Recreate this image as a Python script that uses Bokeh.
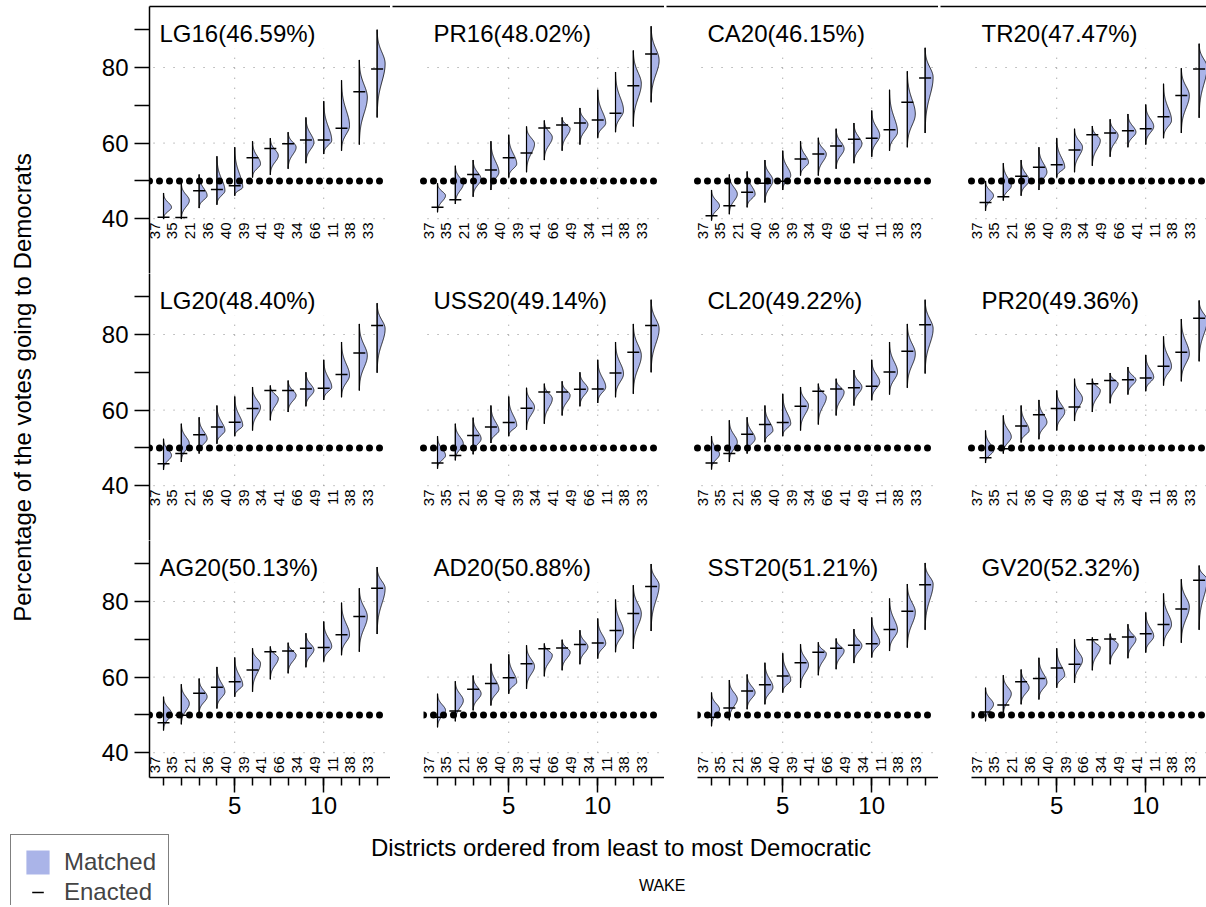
import numpy as np
from bokeh.plotting import figure
from bokeh.models import (Range1d, LinearAxis, FixedTicker, Label, LabelSet, Legend,
                          LegendItem, ColumnDataSource)
from bokeh.layouts import row, column
from bokeh.embed import file_html
from bokeh.resources import INLINE
from bokeh.core.properties import value

# ---------------- data ----------------
elections = ["LG16", "PR16", "CA20", "TR20", "LG20", "USS20", "CL20", "PR20",
             "AG20", "AD20", "SST20", "GV20"]
statewide_dem = [46.59, 48.02, 46.15, 47.47, 48.40, 49.14, 49.22, 49.36,
                 50.13, 50.88, 51.21, 52.32]
district_rank = list(range(1, 14))

LG16_districts = ["37", "35", "21", "36", "40", "39", "41", "49", "34", "66", "11", "38", "33"]
LG16_enacted = [40.4, 40.3, 47.4, 47.7, 48.7, 56.1, 58.6, 59.8, 60.8, 60.8, 63.9, 73.6, 79.6]
LG16_low = [39.9, 39.9, 42.8, 43.7, 46.1, 50.9, 51.6, 53.2, 54.7, 57.1, 58.0, 59.6, 66.8]
LG16_mode = [43.0, 44.8, 46.1, 47.4, 48.3, 54.5, 56.7, 58.9, 60.2, 60.7, 64.6, 72.1, 81.0]
LG16_high = [46.8, 49.4, 51.7, 56.5, 58.9, 60.5, 61.3, 62.9, 66.8, 71.1, 76.6, 82.0, 90.0]

PR16_districts = ["37", "35", "21", "36", "40", "39", "41", "66", "49", "34", "11", "38", "33"]
PR16_enacted = [43.0, 45.0, 51.7, 52.9, 56.1, 57.4, 64.0, 64.8, 65.3, 66.1, 67.9, 75.2, 83.6]
PR16_low = [41.7, 43.9, 45.8, 47.6, 50.9, 52.3, 55.5, 58.0, 59.6, 61.4, 62.9, 64.4, 70.8]
PR16_mode = [46.1, 49.2, 50.5, 52.3, 54.5, 59.8, 61.5, 63.8, 64.9, 65.3, 68.6, 75.7, 81.9]
PR16_high = [49.4, 54.0, 55.5, 60.5, 62.2, 64.4, 66.0, 66.8, 69.3, 74.1, 78.8, 84.5, 90.9]

CA20_districts = ["37", "35", "21", "40", "36", "39", "34", "49", "66", "41", "11", "38", "33"]
CA20_enacted = [40.8, 43.4, 47.0, 49.4, 49.9, 55.8, 57.1, 59.2, 61.0, 61.3, 63.5, 70.8, 77.2]
CA20_low = [39.5, 41.2, 43.0, 44.3, 47.6, 51.4, 51.4, 53.2, 54.7, 56.4, 58.0, 58.9, 62.7]
CA20_mode = [43.4, 46.5, 46.5, 50.1, 51.4, 54.9, 57.1, 58.5, 59.8, 62.0, 62.9, 67.7, 77.4]
CA20_high = [47.6, 51.7, 52.5, 55.5, 58.0, 60.5, 61.4, 63.8, 65.3, 68.6, 74.1, 79.0, 85.2]

TR20_districts = ["37", "35", "21", "36", "40", "39", "34", "49", "66", "41", "11", "38", "33"]
TR20_enacted = [44.3, 45.8, 51.2, 53.6, 54.3, 58.2, 62.2, 62.7, 63.3, 63.8, 67.0, 72.6, 79.6]
TR20_low = [42.1, 44.8, 46.1, 47.6, 50.9, 52.3, 54.0, 56.4, 58.9, 59.6, 61.3, 62.7, 66.7]
TR20_mode = [46.1, 48.7, 50.1, 52.3, 53.6, 58.9, 60.7, 62.0, 62.9, 64.4, 66.0, 72.6, 80.1]
TR20_high = [50.0, 54.7, 55.5, 58.9, 61.3, 63.8, 64.5, 66.3, 67.7, 70.2, 75.7, 79.8, 86.3]

LG20_districts = ["37", "35", "21", "36", "40", "39", "34", "41", "66", "49", "11", "38", "33"]
LG20_enacted = [45.8, 48.5, 53.5, 55.5, 56.8, 60.4, 65.2, 65.2, 65.6, 65.8, 69.4, 75.1, 82.4]
LG20_low = [44.2, 46.3, 48.5, 51.1, 53.1, 54.6, 57.3, 59.5, 61.0, 62.7, 63.4, 65.2, 69.9]
LG20_mode = [48.0, 51.1, 52.4, 54.6, 55.9, 60.8, 63.0, 63.9, 65.2, 66.1, 69.2, 74.4, 81.5]
LG20_high = [52.4, 56.4, 58.1, 61.2, 63.6, 66.1, 66.5, 67.8, 70.0, 73.3, 78.0, 82.8, 88.3]

USS20_districts = ["37", "35", "21", "36", "40", "39", "34", "41", "49", "66", "11", "38", "33"]
USS20_enacted = [46.0, 48.0, 53.3, 55.5, 56.7, 60.5, 64.8, 64.8, 65.5, 65.6, 69.8, 75.3, 82.4]
USS20_low = [44.5, 46.7, 48.3, 51.3, 53.1, 54.8, 56.4, 58.6, 61.0, 61.9, 63.4, 64.3, 70.0]
USS20_mode = [48.0, 51.1, 52.4, 54.6, 55.9, 60.8, 63.0, 63.9, 65.6, 66.1, 69.6, 74.4, 81.5]
USS20_high = [53.1, 56.4, 58.0, 61.2, 63.6, 65.9, 67.0, 67.6, 70.0, 73.3, 78.0, 82.8, 89.2]

CL20_districts = ["37", "35", "21", "36", "40", "39", "34", "66", "41", "49", "11", "38", "33"]
CL20_enacted = [46.0, 48.5, 53.6, 56.2, 56.7, 61.0, 65.0, 65.6, 65.9, 66.3, 70.1, 75.6, 82.6]
CL20_low = [44.3, 46.3, 48.5, 51.5, 53.1, 54.6, 56.2, 58.6, 61.2, 62.6, 64.1, 65.9, 69.7]
CL20_mode = [48.3, 51.5, 52.4, 54.6, 56.4, 61.2, 63.4, 64.8, 66.1, 67.4, 70.1, 74.9, 81.5]
CL20_high = [53.1, 57.3, 58.1, 61.2, 64.3, 66.1, 67.0, 68.3, 70.6, 73.3, 78.0, 82.8, 89.2]

PR20_districts = ["37", "35", "21", "36", "40", "39", "66", "41", "34", "49", "11", "38", "33"]
PR20_enacted = [47.4, 49.8, 55.8, 58.8, 60.4, 60.8, 67.0, 67.8, 68.0, 68.5, 71.6, 75.3, 84.3]
PR20_low = [46.0, 48.5, 51.4, 52.3, 54.6, 57.1, 59.5, 61.8, 64.1, 65.0, 66.5, 67.6, 72.9]
PR20_mode = [49.3, 52.9, 54.6, 56.8, 59.5, 63.0, 65.2, 67.0, 68.0, 68.7, 71.5, 74.9, 83.7]
PR20_high = [54.6, 58.6, 61.2, 62.7, 65.2, 68.3, 68.3, 69.8, 71.4, 74.6, 79.5, 84.1, 89.0]

AG20_districts = ["37", "35", "21", "36", "40", "39", "41", "66", "34", "49", "11", "38", "33"]
AG20_enacted = [47.9, 49.9, 55.7, 57.3, 58.8, 61.9, 66.7, 66.9, 67.6, 67.8, 71.2, 76.0, 83.5]
AG20_low = [45.9, 47.5, 50.4, 51.7, 54.8, 56.1, 59.4, 61.0, 62.6, 64.1, 65.8, 66.7, 71.4]
AG20_mode = [50.4, 53.0, 54.8, 56.1, 57.9, 63.6, 65.0, 65.8, 67.3, 68.1, 71.2, 76.0, 83.5]
AG20_high = [54.8, 58.1, 59.6, 62.7, 65.2, 67.6, 68.1, 69.1, 71.6, 74.7, 79.7, 83.5, 89.1]

AD20_districts = ["37", "35", "21", "36", "40", "39", "41", "66", "49", "34", "11", "38", "33"]
AD20_enacted = [49.4, 51.0, 56.8, 58.3, 59.8, 63.5, 67.5, 67.7, 68.6, 69.0, 72.3, 76.8, 84.0]
AD20_low = [46.7, 48.3, 51.2, 52.5, 55.6, 56.9, 60.2, 61.8, 63.4, 64.9, 66.6, 67.5, 72.2]
AD20_mode = [51.2, 53.8, 55.6, 56.9, 58.7, 62.8, 65.8, 66.6, 68.0, 68.9, 72.0, 76.8, 84.3]
AD20_high = [55.6, 58.9, 60.4, 63.5, 66.0, 68.4, 68.9, 69.9, 72.4, 75.5, 80.5, 84.3, 89.9]

SST20_districts = ["37", "35", "21", "36", "40", "39", "41", "66", "49", "34", "11", "38", "33"]
SST20_enacted = [49.4, 51.8, 56.3, 58.0, 60.3, 63.8, 66.6, 67.6, 68.4, 68.8, 72.6, 77.4, 84.4]
SST20_low = [47.0, 48.6, 51.5, 52.8, 55.9, 57.2, 60.5, 62.1, 63.7, 65.2, 66.9, 67.8, 72.5]
SST20_mode = [51.5, 54.2, 55.9, 57.3, 59.2, 63.2, 66.2, 67.0, 68.3, 69.2, 72.4, 77.2, 84.6]
SST20_high = [55.9, 59.2, 60.7, 63.8, 66.3, 68.7, 69.2, 70.2, 72.7, 75.8, 80.8, 84.6, 90.2]

GV20_districts = ["37", "35", "21", "36", "40", "39", "66", "34", "49", "41", "11", "38", "33"]
GV20_enacted = [50.8, 52.6, 58.8, 59.6, 62.4, 63.4, 69.9, 70.1, 70.6, 71.5, 73.9, 78.0, 85.6]
GV20_low = [48.3, 49.9, 52.8, 54.1, 57.2, 58.5, 61.8, 63.4, 65.0, 66.5, 68.2, 69.1, 72.5]
GV20_mode = [52.8, 55.6, 57.2, 58.6, 60.5, 64.5, 67.8, 68.6, 70.0, 70.8, 73.9, 78.6, 85.8]
GV20_high = [57.2, 60.5, 62.0, 65.1, 67.6, 70.0, 70.5, 71.5, 74.0, 77.1, 82.1, 85.9, 89.5]

y_major_ticks = [40, 60, 80]
y_minor_ticks = [50, 70, 90]
x_major_ticks = [5, 10]
grid_y_values = [40, 60, 80]
grid_x_values = [5, 10]
threshold = 50

# ---------------- style / geometry ----------------
FONT = "Liberation Sans"
FILL = "#AAB4E8"
PX_X = 17.8          # pixels per district
PX_Y = 3.78          # pixels per percentage point
X0 = 0.213
TOP_PAD = 6
Y_TOP = 80 + 61 / PX_Y
HALF_W = 0.45        # violin max width (x units)
GAP = 33
EDGE = 2             # keeps the top border off the canvas edge
GRID_X0, GRID_X1 = 0.44, 13.57
GRID_Y0, GRID_Y1 = 40, 85
DOT_X1 = 13.6
LABEL_Y = 39
LABEL_DX = 0.5
ROW_H = [267, 267, 237]


def make_panel(idx):
    name = elections[idx]
    pct = statewide_dem[idx]
    districts = globals()[f"{name}_districts"]
    enacted = globals()[f"{name}_enacted"]
    low = globals()[f"{name}_low"]
    mode = globals()[f"{name}_mode"]
    high = globals()[f"{name}_high"]

    r, c = divmod(idx, 4)
    fw = 241 if c < 3 else 235
    fh = ROW_H[r]
    bottom = 50 if r == 2 else 0
    top = TOP_PAD if r == 0 else 0
    x_end = X0 + fw / PX_X
    if c == 0:
        left, x_start = 91, X0
    elif r == 2:
        left, x_start = GAP, X0
    elif r == 0:
        # top row: frame covers most of the gap so the outer top border is (nearly) continuous
        left, x_start = EDGE, X0 - (GAP - EDGE) / PX_X
        fw += GAP - EDGE
    else:
        left, x_start = 0, X0 - GAP / PX_X
        fw += GAP

    p = figure(frame_width=fw, frame_height=fh,
               x_range=Range1d(x_start, x_end),
               y_range=Range1d(Y_TOP - fh / PX_Y, Y_TOP),
               output_backend="svg", toolbar_location=None,
               x_axis_location=None, y_axis_location=None,
               min_border_left=left, min_border_right=0,
               min_border_top=top, min_border_bottom=bottom,
               outline_line_color=None, title=None,
               background_fill_color="white", border_fill_color="white")
    p.grid.visible = False

    if r == 0:
        # outer top border of the figure: a bare axis line without ticks or labels
        border = LinearAxis(ticker=FixedTicker(ticks=[]), axis_line_width=1.5,
                            axis_line_color="black", major_tick_out=0, major_tick_in=0,
                            minor_tick_out=0, minor_tick_in=0, major_label_standoff=0,
                            major_tick_line_color=None, minor_tick_line_color=None,
                            major_label_text_font_size="1px")
        p.add_layout(border, "above")

    if c == 0:
        yax = LinearAxis(ticker=FixedTicker(ticks=y_major_ticks, minor_ticks=y_minor_ticks),
                         axis_line_width=1.5, axis_line_color="black",
                         major_tick_line_width=1.5, minor_tick_line_width=1.5,
                         major_tick_out=15, major_tick_in=0,
                         minor_tick_out=15, minor_tick_in=0,
                         major_label_standoff=6,
                         major_label_text_font=FONT,
                         major_label_text_font_size="24px",
                         major_label_text_color="black")
        p.add_layout(yax, "left")
    if r == 2:
        xax = LinearAxis(ticker=FixedTicker(ticks=x_major_ticks, minor_ticks=district_rank),
                         axis_line_width=1.5, axis_line_color="black",
                         major_tick_line_width=1.5, minor_tick_line_width=1.5,
                         major_tick_out=15, major_tick_in=0,
                         minor_tick_out=8, minor_tick_in=0,
                         major_label_standoff=4,
                         major_label_text_font=FONT,
                         major_label_text_font_size="24px",
                         major_label_text_color="black")
        p.add_layout(xax, "below")

    # dotted grid
    n = len(grid_y_values)
    p.segment(x0=[GRID_X0] * n, x1=[GRID_X1] * n, y0=grid_y_values, y1=grid_y_values,
              line_color="#8a8a8a", line_width=1, line_dash="1 9")
    m = len(grid_x_values)
    p.segment(x0=grid_x_values, x1=grid_x_values, y0=[GRID_Y0] * m, y1=[GRID_Y1] * m,
              line_color="#8a8a8a", line_width=1, line_dash="1 9")

    # half violins
    xs, ys = [], []
    for pos, lo, md, hi in zip(district_rank, low, mode, high):
        yy = np.linspace(lo, hi, 90)
        sd = np.where(yy < md, max(md - lo, 0.6) / 3.0, max(hi - md, 0.6) / 3.0)
        w = HALF_W * np.exp(-0.5 * ((yy - md) / sd) ** 2)
        xs.append([pos] + list(pos + w) + [pos])
        ys.append([lo] + list(yy) + [hi])
    p.patches(xs, ys, fill_color=FILL, line_color="black", line_width=0.8)
    p.segment(x0=district_rank, x1=district_rank, y0=low, y1=high,
              line_color="black", line_width=1.2)
    p.scatter(district_rank, enacted, marker="dash", size=12,
              line_color="black", line_width=1.5)

    # 50% line
    p.line([X0, DOT_X1], [threshold, threshold], line_color="black", line_width=7,
           line_dash="0 10", line_cap="round")

    # district labels
    src = ColumnDataSource(dict(x=[d - LABEL_DX for d in district_rank],
                                y=[LABEL_Y] * len(districts), text=districts))
    p.add_layout(LabelSet(x="x", y="y", text="text", source=src, angle=np.pi / 2,
                          text_align="right", text_baseline="middle",
                          text_font=value(FONT), text_font_size="15px",
                          text_color="black"))

    p.add_layout(Label(x=X0 + 10 / PX_X, y=Y_TOP - 27 / PX_Y,
                       text=f"{name}({pct:.2f}%)", text_font=FONT,
                       text_font_size="24px", text_color="black",
                       text_baseline="alphabetic"))
    return p


panels = [make_panel(i) for i in range(12)]

grid_h = TOP_PAD + ROW_H[0] + ROW_H[1] + ROW_H[2] + 50

# y-axis title
yt = figure(width=58, height=grid_h, x_range=Range1d(0, 58), y_range=Range1d(0, grid_h),
            output_backend="svg", toolbar_location=None,
            x_axis_location=None, y_axis_location=None, min_border=0,
            outline_line_color=None, title=None)
yt.grid.visible = False
yt.add_layout(Label(x=22, y=grid_h - 387, text="Percentage of the votes going to Democrats",
                    angle=np.pi / 2, text_align="center", text_baseline="middle",
                    text_font=FONT, text_font_size="24px", text_color="black"))

# bottom area: x title, legend, WAKE
bh = 905 - grid_h
bf = figure(width=1206, height=bh, x_range=Range1d(0, 1206), y_range=Range1d(0, bh),
            output_backend="svg", toolbar_location=None,
            x_axis_location=None, y_axis_location=None, min_border=0,
            outline_line_color=None, title=None)
bf.grid.visible = False
top_of_bf = grid_h
bf.add_layout(Label(x=620.5, y=bh - (847 - top_of_bf), text="Districts ordered from least to most Democratic",
                    text_align="center", text_baseline="alphabetic",
                    text_font=FONT, text_font_size="24px", text_color="black"))
bf.add_layout(Label(x=661.7, y=bh - (885 - top_of_bf), text="WAKE", text_align="center",
                    text_baseline="alphabetic",
                    text_font=FONT, text_font_size="16px", text_color="black"))
r_m = bf.quad(left=[-20], right=[-10], top=[-10], bottom=[-20], fill_color=FILL, line_color=None)
r_e = bf.scatter(x=[-20], y=[-20], marker="dash", size=12, line_color="black", line_width=1.5)
legend = Legend(items=[LegendItem(label="Matched", renderers=[r_m]),
                       LegendItem(label="Enacted", renderers=[r_e])],
                location=(10, bh - (836 - top_of_bf) - 84), padding=12, spacing=0, margin=0,
                glyph_width=29, glyph_height=30, label_height=30, label_standoff=12,
                label_text_font=FONT, label_text_font_size="24px",
                border_line_color="black", border_line_width=1,
                background_fill_color="white", background_fill_alpha=1.0)
bf.add_layout(legend)

grid = column(row(*panels[0:4]), row(*panels[4:8]), row(*panels[8:12]))
layout = column(row(yt, grid), bf)

open("out.html", "w").write(file_html(layout, INLINE))
